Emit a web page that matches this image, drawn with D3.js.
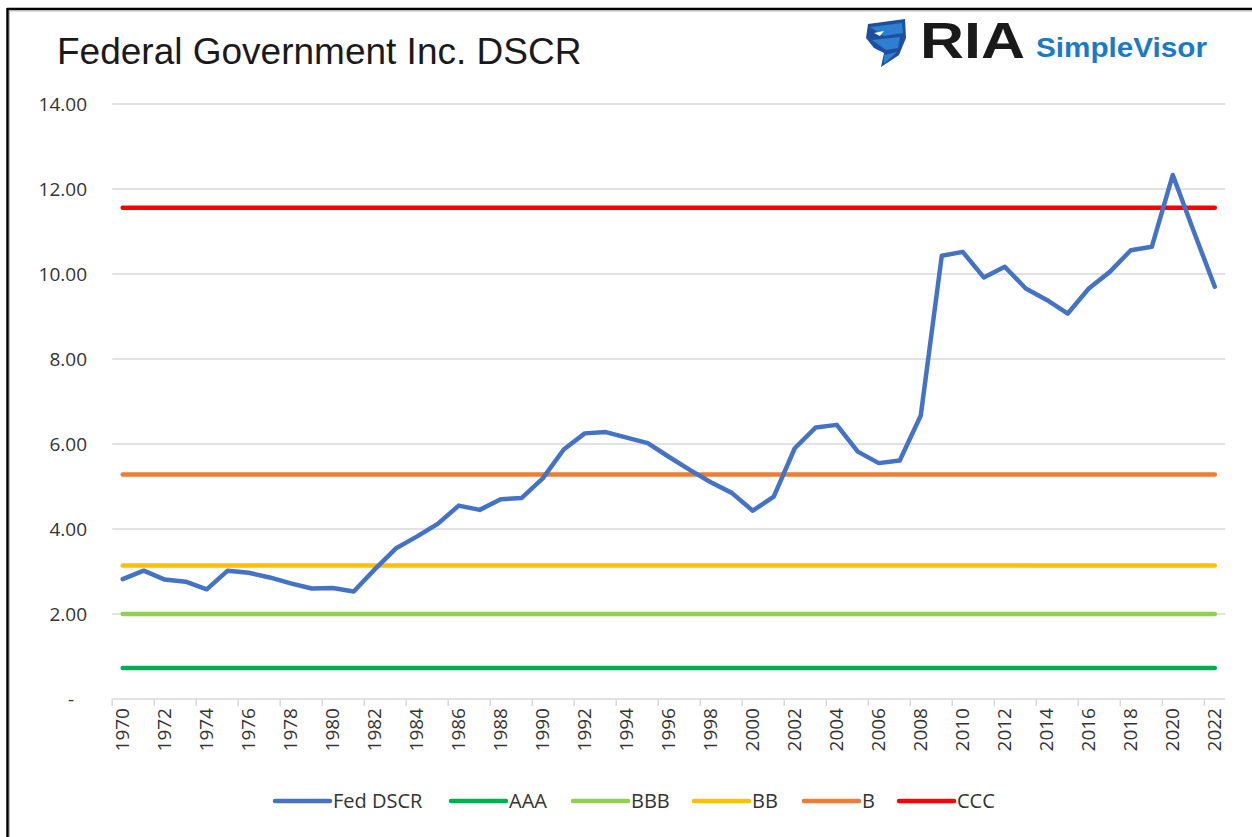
<!DOCTYPE html>
<html><head><meta charset="utf-8">
<script src="https://cdn.jsdelivr.net/npm/d3@7"></script>
<style>html,body{margin:0;padding:0;background:#fff;}svg{display:block;}</style>
</head><body>
<svg id="chart" width="1252" height="837"></svg>
<script>
const years = d3.range(1970, 2023).map(String);
const fedDSCR = [2.82,3.02,2.81,2.76,2.58,3.02,2.97,2.86,2.72,2.60,2.61,2.53,3.05,3.54,3.82,4.12,4.55,4.45,4.70,4.73,
  5.19,5.87,6.25,6.28,6.15,6.02,5.70,5.39,5.10,4.85,4.43,4.76,5.90,6.39,6.45,5.82,5.55,5.61,6.67,10.43,
  10.52,9.92,10.17,9.66,9.39,9.07,9.66,10.05,10.56,10.64,12.33,11.00,9.70];
const ratingNames = ["AAA","BBB","BB","B","CCC"];
const ratingValues = [0.73, 2.00, 3.14, 5.28, 11.56];
const seriesNames = ["Fed DSCR","AAA","BBB","BB","B","CCC"];
const seriesColors = ["#4472C4","#00B050","#92D050","#FFC000","#ED7D31","#FF0000"];
const yTicks = [0,2,4,6,8,10,12,14];
const xTickLabels = years.filter((d,i)=>i%2===0);

const svg = d3.select("#chart");
const x = d3.scaleBand().domain(years).range([112.2, 1225.3]).padding(0);
const y = d3.scaleLinear().domain([0,14]).range([699,104]);
const cx = d => x(d) + x.bandwidth()/2;
const tickFont = "'Open Sans', 'Noto Sans', sans-serif";
const yFont = "'Liberation Sans Narrow', 'Open Sans', sans-serif";

// frame
svg.append("line").attr("x1",7).attr("x2",1252).attr("y1",9).attr("y2",9).attr("stroke","#000").attr("stroke-width",2.5);
svg.append("line").attr("x1",7.5).attr("x2",7.5).attr("y1",8).attr("y2",837).attr("stroke","#000").attr("stroke-width",2.5);
svg.append("line").attr("x1",9.5).attr("x2",9.5).attr("y1",11).attr("y2",837).attr("stroke","#bbb").attr("stroke-width",1);
svg.append("line").attr("x1",9).attr("x2",1252).attr("y1",11).attr("y2",11).attr("stroke","#bbb").attr("stroke-width",1);

// title
svg.append("text").attr("x",57).attr("y",64).attr("font-family","'Liberation Sans', Arial, sans-serif")
  .attr("font-size",37).attr("fill","#1a1a1a").text("Federal Government Inc. DSCR");

// logo
const logo = svg.append("g");
logo.append("path").attr("d","M868,24 L905,19 L906,38 L899,55 L881,67 L884,53 L874,48 L866,38 Z").attr("fill","#1d4f9e");
logo.append("path").attr("d","M870,27 L902,23 L903,33 L884,36 Z").attr("fill","#2f7fd0");
logo.append("path").attr("d","M872,40 L900,37 L898,48 L886,50 Z").attr("fill","#2f7fd0");
logo.append("path").attr("d","M884,55 L897,52 L884,64 Z").attr("fill","#2f7fd0");
logo.append("path").attr("d","M874,33 L884,31 L880,36 Z").attr("fill","#fff");
logo.append("text").attr("x",920).attr("y",58).attr("font-family","'Liberation Sans', Arial, sans-serif")
  .attr("font-weight","bold").attr("font-size",50).attr("fill","#1a1a1a").attr("textLength",105).attr("lengthAdjust","spacingAndGlyphs").text("RIA");
logo.append("text").attr("x",1036).attr("y",57).attr("font-family","'Liberation Sans', Arial, sans-serif")
  .attr("font-weight","bold").attr("font-size",27).attr("fill","#1b7ac7").attr("textLength",171).attr("lengthAdjust","spacingAndGlyphs").text("SimpleVisor");

// gridlines
svg.append("g").selectAll("line").data(yTicks).join("line")
  .attr("x1",112.2).attr("x2",1225.3).attr("y1",d=>y(d)).attr("y2",d=>y(d))
  .attr("stroke","#d9d9d9").attr("stroke-width",1.5);

// y labels
svg.append("g").selectAll("text").data(yTicks).join("text")
  .attr("x",d=>d===0?74:87).attr("y",d=>y(d)).attr("dy","0.35em").attr("text-anchor","end")
  .attr("font-family",yFont).attr("font-size",19).attr("fill","#333")
  .text(d=>d===0?"-":d3.format(".2f")(d));

// x axis ticks
svg.append("g").selectAll("line").data(xTickLabels).join("line")
  .attr("x1",d=>x(d)).attr("x2",d=>x(d)).attr("y1",699).attr("y2",706)
  .attr("stroke","#d9d9d9").attr("stroke-width",1.5);
svg.append("g").selectAll("text").data(xTickLabels).join("text")
  .attr("transform",d=>`translate(${cx(d)},708) rotate(-90)`)
  .attr("dy","0.35em").attr("text-anchor","end")
  .attr("font-family",tickFont).attr("font-size",19).attr("fill","#333").text(d=>d);

// rating lines
ratingValues.forEach((v,i)=>{
  svg.append("path").datum(years)
    .attr("d", d3.line().x(d=>cx(d)).y(()=>y(v)))
    .attr("fill","none").attr("stroke",seriesColors[i+1]).attr("stroke-width",4.5).attr("stroke-linecap","round");
});
// Fed DSCR
svg.append("path").datum(fedDSCR)
  .attr("d", d3.line().x((d,i)=>cx(years[i])).y(d=>y(d)))
  .attr("fill","none").attr("stroke",seriesColors[0]).attr("stroke-width",4.5)
  .attr("stroke-linejoin","round").attr("stroke-linecap","round");

// legend
const legX = [275, 451, 573, 694, 804, 899];
const leg = svg.append("g");
seriesNames.forEach((n,i)=>{
  leg.append("line").attr("x1",legX[i]).attr("x2",legX[i]+55).attr("y1",801).attr("y2",801)
    .attr("stroke",seriesColors[i]).attr("stroke-width",4.5).attr("stroke-linecap","round");
  leg.append("text").attr("x",legX[i]+58).attr("y",801).attr("dy","0.35em")
    .attr("font-family",tickFont).attr("font-size",20).attr("fill","#333").text(n);
});
</script>
</body></html>
